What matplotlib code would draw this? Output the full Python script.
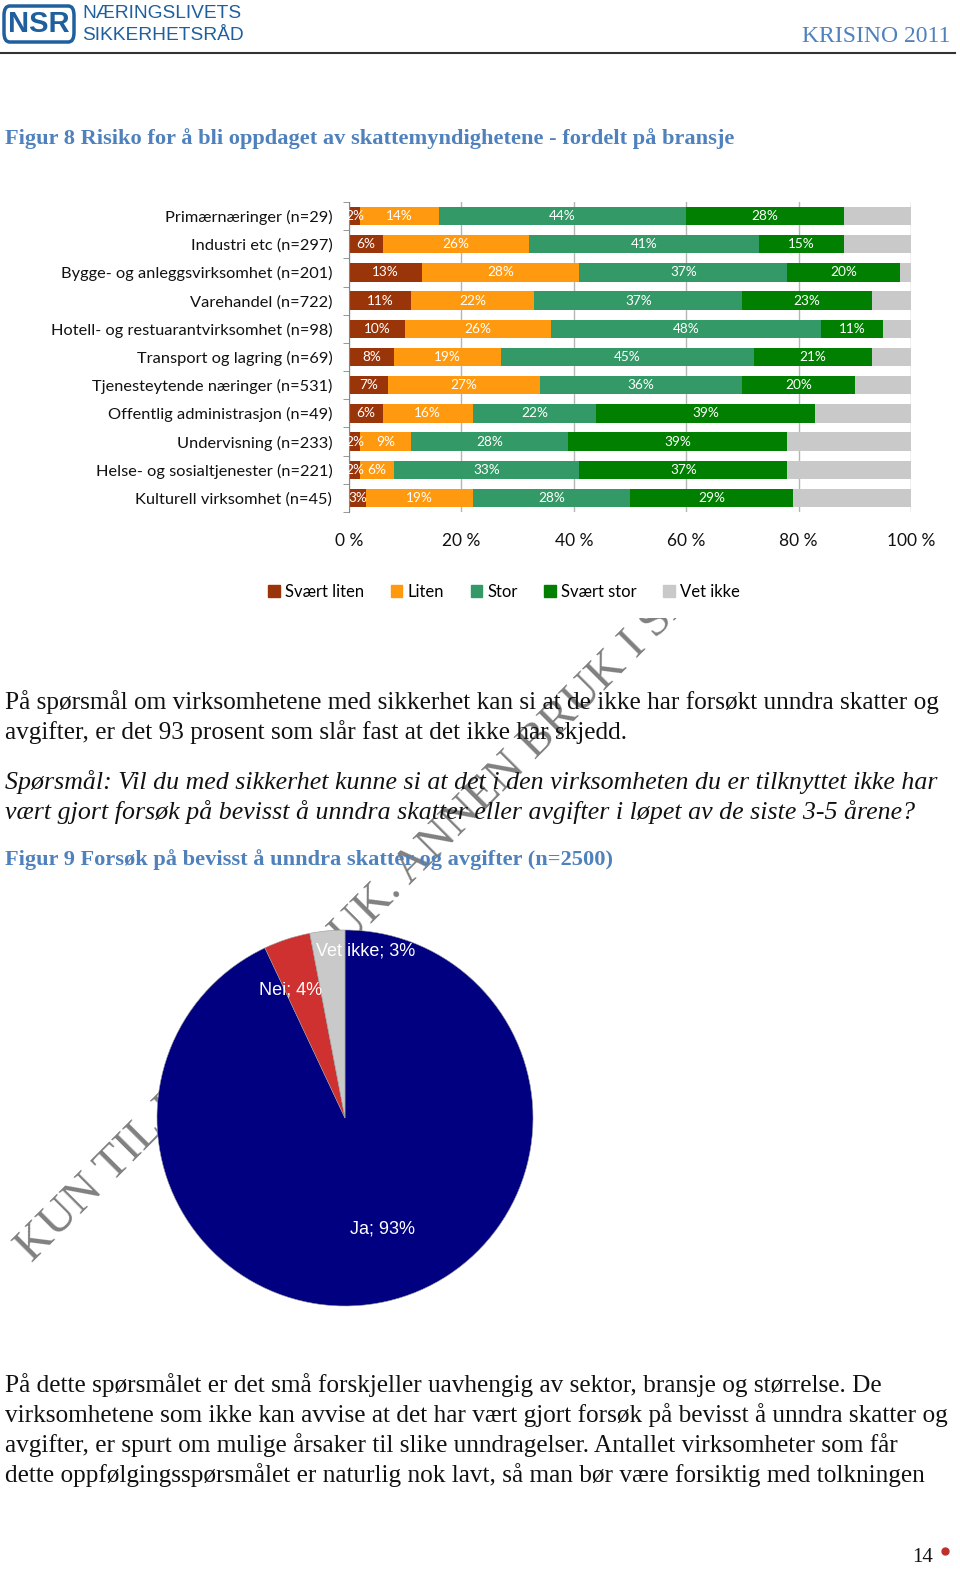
import matplotlib
matplotlib.use("Agg")
import matplotlib.pyplot as plt
import numpy as np
from matplotlib.patches import FancyBboxPatch, Patch
from matplotlib.lines import Line2D

W, H = 960, 1570

# Figur 8 - data
bransjer = ["Primærnæringer (n=29)", "Industri etc (n=297)",
            "Bygge- og anleggsvirksomhet (n=201)", "Varehandel (n=722)",
            "Hotell- og restuarantvirksomhet (n=98)", "Transport og lagring (n=69)",
            "Tjenesteytende næringer (n=531)", "Offentlig administrasjon (n=49)",
            "Undervisning (n=233)", "Helse- og sosialtjenester (n=221)",
            "Kulturell virksomhet (n=45)"]
svaert_liten = [2, 6, 13, 11, 10, 8, 7, 6, 2, 2, 3]
liten = [14, 26, 28, 22, 26, 19, 27, 16, 9, 6, 19]
stor = [44, 41, 37, 37, 48, 45, 36, 22, 28, 33, 28]
svaert_stor = [28, 15, 20, 23, 11, 21, 20, 39, 39, 37, 29]
vet_ikke = [12, 12, 2, 7, 5, 7, 10, 17, 22, 22, 21]
serie_navn = ["Svært liten", "Liten", "Stor", "Svært stor", "Vet ikke"]
serie_farger = ["#9A3409", "#FF9A10", "#339966", "#007F00", "#C9C9C9"]
x_ticks = [0, 20, 40, 60, 80, 100]

# Figur 9 - data
pie_navn = ["Ja", "Nei", "Vet ikke"]
pie_verdier = [93, 4, 3]
pie_farger = ["#000080", "#CF3030", "#C9C9C9"]


def fx(px):
    return px / W


def fy(py):
    return 1 - py / H


fig = plt.figure(figsize=(W / 100, H / 100), dpi=100)

# header
logo = FancyBboxPatch((fx(4), fy(42)), fx(70), 36 / H,
                      boxstyle="round,pad=0,rounding_size=0.006",
                      transform=fig.transFigure, fill=False,
                      edgecolor="#1F5F9E", lw=2.5)
fig.add_artist(logo)
fig.text(fx(39), fy(24), "NSR", ha="center", va="center", fontsize=21,
         fontweight="bold", color="#1F5F9E", family="Liberation Sans")
fig.text(fx(82), fy(14), "NÆRINGSLIVETS", va="center", fontsize=13.8,
         color="#1F5F9E", family="Liberation Sans")
fig.text(fx(82), fy(35), "SIKKERHETSRÅD", va="center", fontsize=13.8,
         color="#1F5F9E", family="Liberation Sans")
fig.text(fx(950), fy(36), "KRISINO 2011", ha="right", va="center",
         fontsize=17, color="#4F81BD", family="Liberation Serif")
fig.add_artist(Line2D([0, fx(955)], [fy(53), fy(53)], color="#333333", lw=1.5))

tittel = dict(va="center", fontsize=16.1, fontweight="bold", color="#4F81BD",
              family="Liberation Serif")
fig.text(fx(5), fy(139), "Figur 8 Risiko for å bli oppdaget av skattemyndighetene - fordelt på bransje",
         **tittel)

# stacked bar chart
ax = fig.add_axes([fx(349), fy(512), 562 / W, 310 / H])
y = np.arange(len(bransjer))
left = np.zeros(len(bransjer))
serier = [svaert_liten, liten, stor, svaert_stor, vet_ikke]
for navn, vals, farge in zip(serie_navn, serier, serie_farger):
    vals = np.array(vals)
    bars = ax.barh(y, vals, left=left, height=0.65, color=farge, label=navn, zorder=2)
    if navn != "Vet ikke":
        ax.bar_label(bars, labels=[f"{v}%" for v in vals], label_type="center",
                     color="white", fontsize=9.8, family="Lato")
    left += vals

ax.set_xlim(0, 100)
ax.set_ylim(len(bransjer) - 0.5, -0.5)
ax.set_yticks(y)
ax.set_yticklabels(bransjer, fontsize=11.8, family="Lato", color="#111111")
ax.set_yticks(np.arange(-0.5, len(bransjer)), minor=True)
ax.tick_params(axis="y", which="major", length=0, pad=12)
ax.tick_params(axis="y", which="minor", length=4, color="#868686")
ax.set_xticks(x_ticks)
ax.set_xticklabels([f"{t} %" for t in x_ticks], fontsize=12.5, family="Lato", color="#111111")
ax.tick_params(axis="x", length=0, pad=15)
ax.grid(axis="x", color="#B5B5B5", lw=1, zorder=0)
for s in ["top", "right", "bottom"]:
    ax.spines[s].set_visible(False)
ax.spines["left"].set_color("#868686")

handles = [Patch(color=c, label=n) for n, c in zip(serie_navn, serie_farger)]
fig.legend(handles=handles, loc="center", bbox_to_anchor=(fx(504), fy(592)),
           ncol=5, frameon=False, prop={"family": "Lato", "size": 12},
           handlelength=0.7, handleheight=0.7, handletextpad=0.3, columnspacing=1.6)

# body text
brod = dict(va="center", fontsize=18.2, family="Liberation Serif", color="#111111")
kursiv = dict(brod, fontsize=18.6, style="italic")
fig.text(fx(5), fy(702), "På spørsmål om virksomhetene med sikkerhet kan si at de ikke har forsøkt unndra skatter og", **brod)
fig.text(fx(5), fy(732), "avgifter, er det 93 prosent som slår fast at det ikke har skjedd.", **brod)
fig.text(fx(5), fy(782), "Spørsmål: Vil du med sikkerhet kunne si at det i den virksomheten du er tilknyttet ikke har",
         **kursiv)
fig.text(fx(5), fy(812), "vært gjort forsøk på bevisst å unndra skatter eller avgifter i løpet av de siste 3-5 årene?",
         **kursiv)
fig.text(fx(5), fy(860), "Figur 9 Forsøk på bevisst å unndra skatter og avgifter (n=2500)", **tittel)

linjer = ["På dette spørsmålet er det små forskjeller uavhengig av sektor, bransje og størrelse. De",
          "virksomhetene som ikke kan avvise at det har vært gjort forsøk på bevisst å unndra skatter og",
          "avgifter, er spurt om mulige årsaker til slike unndragelser. Antallet virksomheter som får",
          "dette oppfølgingsspørsmålet er naturlig nok lavt, så man bør være forsiktig med tolkningen"]
for i, linje in enumerate(linjer):
    fig.text(fx(5), fy(1385 + 30 * i), linje, **brod)

fig.text(fx(933), fy(1557), "14", ha="right", va="center", fontsize=15,
         family="Liberation Serif", color="#111111")
fig.add_artist(Line2D([fx(945)], [fy(1551)], marker="o", markersize=5,
                      color="#C0302B", lw=0))

# watermark (clipped below the bar chart, covered by the pie)
wm = fig.add_axes([0, 0, 1, fy(618)])
wm.axis("off")
wm.text(fx(32), fy(1263), "KUN TIL INTERN BRUK. ANNEN BRUK I SAMRÅD MED NSR",
        transform=fig.transFigure, rotation=45, rotation_mode="anchor",
        ha="left", va="baseline", fontsize=34, color="#808080",
        family="Liberation Serif", clip_on=True)

# pie chart
pax = fig.add_axes([fx(157), fy(1306), 376 / W, 376 / H])
pax.pie(pie_verdier, colors=pie_farger, startangle=90, counterclock=False,
        wedgeprops=dict(edgecolor="#9a9a9a", linewidth=0.4))
pax.set_xlim(-1, 1)
pax.set_ylim(-1, 1)
etikett_pos = [(0.20, -0.59), (-0.29, 0.68), (0.11, 0.89)]
for navn, v, (px, py) in zip(pie_navn, pie_verdier, etikett_pos):
    pax.text(px, py, f"{navn}; {v}%", ha="center", va="center", fontsize=13,
             color="white", family="Liberation Sans")

fig.savefig("out.png", dpi=100)
